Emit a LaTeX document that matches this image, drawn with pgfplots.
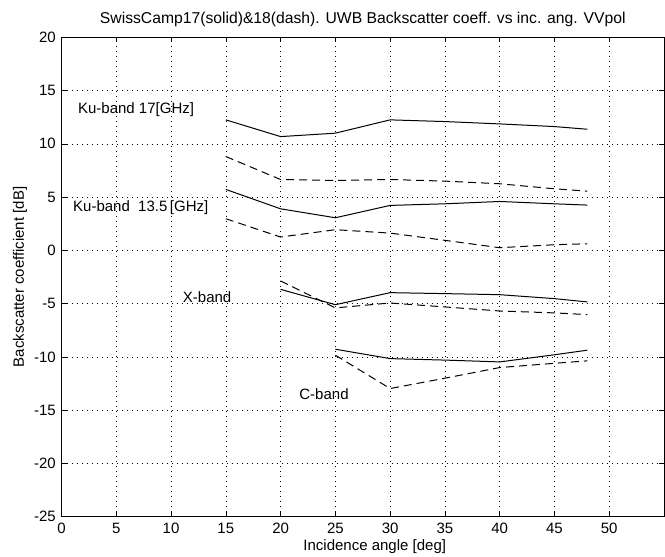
\documentclass[border=0pt]{standalone}
\usepackage{fontspec}
\setmainfont{Liberation Sans}
\usepackage{pgfplots}
\pgfplotsset{compat=1.18}
\newcommand{\fs}{\fontsize{15}{17}\selectfont}
\begin{document}
\fs
\begin{tikzpicture}
\begin{axis}[name=ax,
  scale only axis, width=602.5pt, height=479.4pt,
  xmin=0, xmax=55, ymin=-25, ymax=20,
  xtick={0,5,...,50}, ytick={-25,-20,...,20},
  grid=major,
  grid style={black, line width=0.5pt, dash pattern=on 0.8pt off 4.2pt},
  tick align=inside, major tick length=5pt,
  tick style={black, line width=0.6pt},
  axis line style={line width=0.9pt},
  ticklabel style={font=\fs},
  xticklabel style={yshift=-1pt},
  yticklabel style={xshift=-0.5pt},
  /pgf/number format/assume math mode=true,
  title={SwissCamp17(solid)\&18(dash). UWB Backscatter coeff. vs inc. ang. VVpol},
  every axis title/.style={at={(axis description cs:0.5,1)}, anchor=south, yshift=5pt, font=\fontsize{15.7}{18}\selectfont},
  xlabel={Incidence angle [deg]},
  every axis x label/.style={at={(axis description cs:0.5199,0)}, anchor=center, yshift=-30pt, font=\fs},
  ylabel={Backscatter coefficient [dB]},
  every axis y label/.style={at={(axis description cs:-0.0689,0.5)}, anchor=center, rotate=90, font=\fs},
  every axis plot/.append style={black, line width=1pt},
]
% Ku-band 17 GHz
\addplot[solid] coordinates {(15,12.25)(20,10.68)(25,11.0)(30,12.25)(35,12.09)(40,11.87)(45,11.62)(48,11.37)};
\addplot[dash pattern=on 8pt off 5pt] coordinates {(15,8.81)(20,6.65)(25,6.56)(30,6.65)(35,6.5)(40,6.25)(45,5.78)(48,5.56)};
% Ku-band 13.5 GHz
\addplot[solid] coordinates {(15,5.72)(20,3.9)(25,3.06)(30,4.22)(35,4.37)(40,4.59)(45,4.37)(48,4.25)};
\addplot[dash pattern=on 8pt off 5pt] coordinates {(15,2.97)(20,1.25)(25,1.94)(30,1.62)(35,0.94)(40,0.25)(45,0.53)(48,0.62)};
% X-band
\addplot[solid] coordinates {(20,-3.66)(25,-5.1)(30,-3.97)(35,-4.06)(40,-4.16)(45,-4.53)(48,-4.84)};
\addplot[dash pattern=on 8pt off 5pt] coordinates {(20,-2.87)(25,-5.4)(30,-4.94)(35,-5.31)(40,-5.69)(45,-5.87)(48,-6.03)};
% C-band
\addplot[solid] coordinates {(25,-9.28)(30,-10.16)(35,-10.3)(40,-10.47)(45,-9.8)(48,-9.37)};
\addplot[dash pattern=on 8pt off 5pt] coordinates {(25,-9.84)(30,-12.97)(35,-12.0)(40,-11.0)(45,-10.6)(48,-10.37)};

\node[anchor=west, inner sep=0pt, font=\fs] at (axis cs:1.5,13.2) {Ku-band 17[GHz]};
\node[anchor=west, inner sep=0pt, font=\fs] at (axis cs:1.05,4.0) {Ku-band \ 13.5\,[GHz]};
\node[anchor=west, inner sep=0pt, font=\fs] at (axis cs:11.07,-4.38) {X-band};
\node[anchor=west, inner sep=0pt, font=\fs] at (axis cs:21.7,-13.5) {C-band};
\end{axis}
\pgfresetboundingbox
\path ([shift={(-61.5pt,-39.3pt)}]ax.south west) rectangle ([shift={(1pt,37.3pt)}]ax.north east);
\end{tikzpicture}
\end{document}
